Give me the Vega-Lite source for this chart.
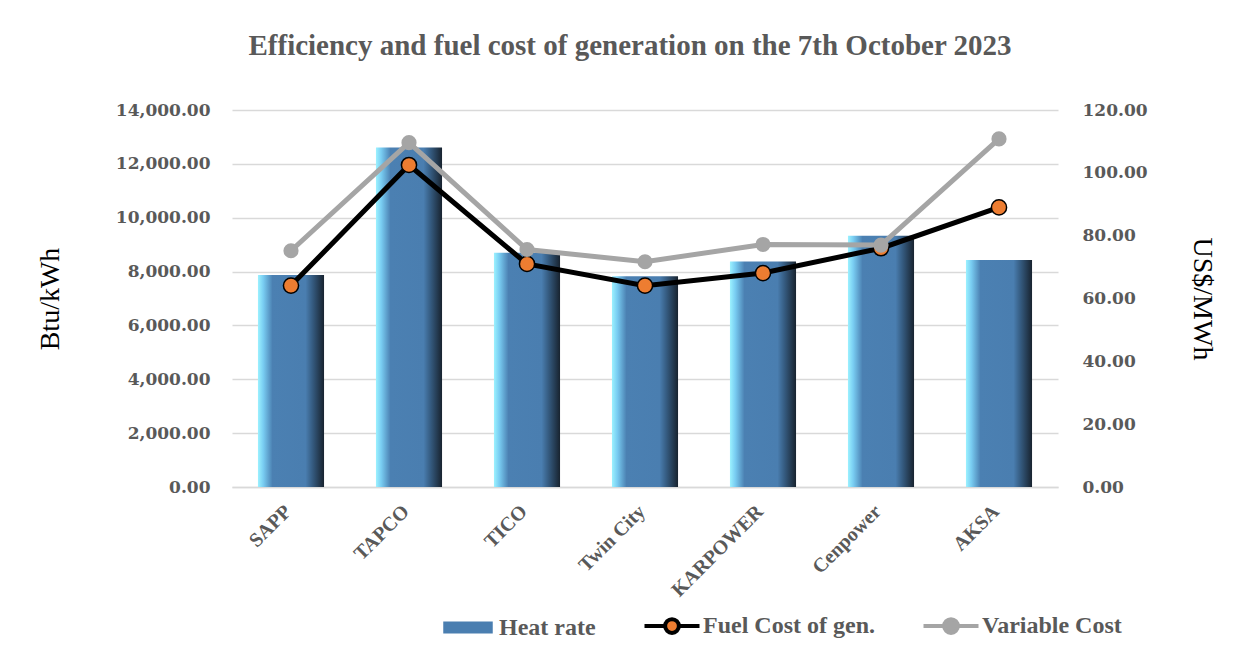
{
  "$schema": "https://vega.github.io/schema/vega-lite/v6.json",
  "width": 826,
  "height": 377,
  "autosize": {"type": "none"},
  "padding": {"left": 232, "top": 110, "right": 186, "bottom": 162},
  "background": "white",
  "title": {
    "text": "Efficiency and fuel cost of generation on the 7th October 2023",
    "font": "Liberation Serif",
    "fontSize": 29,
    "fontWeight": "bold",
    "color": "#595959",
    "anchor": "middle",
    "dx": -15,
    "offset": 40
  },
  "config": {
    "view": {"stroke": null}
  },
  "data": {
    "values": [
      {"plant": "SAPP", "heat": 7870, "fuel": 64.1, "variable": 75.2},
      {"plant": "TAPCO", "heat": 12610, "fuel": 102.5, "variable": 109.6},
      {"plant": "TICO", "heat": 8700, "fuel": 71.0, "variable": 75.6},
      {"plant": "Twin City", "heat": 7830, "fuel": 64.1, "variable": 71.7},
      {"plant": "KARPOWER", "heat": 8370, "fuel": 68.1, "variable": 77.2},
      {"plant": "Cenpower", "heat": 9330, "fuel": 76.0, "variable": 77.0},
      {"plant": "AKSA", "heat": 8430, "fuel": 89.0, "variable": 110.8}
    ]
  },
  "encoding": {
    "x": {
      "field": "plant",
      "type": "nominal",
      "sort": null,
      "scale": {"paddingInner": 0.44, "paddingOuter": 0.22},
      "axis": {
        "title": null,
        "labelAngle": -45,
        "labelFont": "Liberation Serif",
        "labelFontSize": 20,
        "labelFontWeight": "bold",
        "labelColor": "#595959",
        "labelPadding": 14,
        "labelOffset": -10,
        "ticks": false,
        "domainColor": "#d9d9d9",
        "domainWidth": 1.5
      }
    }
  },
  "layer": [
    {
      "mark": {
        "type": "bar",
        "color": {
          "gradient": "linear",
          "x1": 0, "x2": 1, "y1": 0, "y2": 0,
          "stops": [
            {"offset": 0, "color": "#9cf2ff"},
            {"offset": 0.08, "color": "#79cdf2"},
            {"offset": 0.22, "color": "#4b80b2"},
            {"offset": 0.72, "color": "#4a7eb0"},
            {"offset": 0.82, "color": "#365d83"},
            {"offset": 1, "color": "#18232f"}
          ]
        }
      },
      "encoding": {
        "y": {
          "field": "heat",
          "type": "quantitative",
          "scale": {"domain": [0, 14000]},
          "axis": {
            "values": [0, 2000, 4000, 6000, 8000, 10000, 12000, 14000],
            "format": ",.2f",
            "grid": true,
            "gridColor": "#d9d9d9",
            "gridWidth": 1.5,
            "domain": false,
            "ticks": false,
            "labelPadding": 22,
            "labelFont": "DejaVu Serif",
            "labelFontSize": 17,
            "labelFontWeight": "bold",
            "labelColor": "#595959",
            "title": "Btu/kWh",
            "titleFont": "Liberation Serif",
            "titleFontSize": 28,
            "titleFontWeight": "normal",
            "titleColor": "black",
            "titlePadding": 51
          }
        }
      }
    },
    {
      "layer": [
        {
          "mark": {"type": "line", "color": "black", "strokeWidth": 5},
          "encoding": {
            "y": {
              "field": "fuel",
              "type": "quantitative",
              "scale": {"domain": [0, 120]},
              "axis": {
                "values": [0, 20, 40, 60, 80, 100, 120],
                "format": ".2f",
                "grid": false,
                "domain": false,
                "ticks": false,
                "labelPadding": 24,
                "labelFont": "DejaVu Serif",
                "labelFontSize": 17,
                "labelFontWeight": "bold",
                "labelColor": "#595959",
                "title": "US$/MWh",
                "titleFont": "Liberation Serif",
                "titleFontSize": 28,
                "titleFontWeight": "normal",
                "titleColor": "black",
                "titlePadding": 40
              }
            },
            "color": {
              "datum": "Fuel Cost of gen.",
              "type": "nominal",
              "scale": {
                "domain": ["Heat rate", "Fuel Cost of gen.", "Variable Cost"],
                "range": ["#4a7eb0", "black", "#a5a5a5"]
              },
              "legend": {
                "title": null,
                "orient": "none",
                "direction": "horizontal",
                "columns": 3,
                "legendX": 208,
                "legendY": 504,
                "symbolSize": 3025,
                "symbolStrokeWidth": 4,
                "labelFont": "Liberation Serif",
                "labelFontSize": 24,
                "labelFontWeight": "bold",
                "labelColor": "#595959",
                "labelLimit": 400,
                "columnPadding": 40,
                "encode": {
                  "symbols": {
                    "update": {
                      "x": {"value": 28},
                      "shape": {"signal": "datum.value === 'Heat rate' ? 'M-0.9,-0.22H0.9V0.22H-0.9Z' : 'M-1,0H-0.25M0.25,0H1M-0.25,0A0.25,0.25 0 1 1 0.25,0A0.25,0.25 0 1 1 -0.25,0Z'"},
                      "fill": {"signal": "datum.value === 'Heat rate' ? '#4a7eb0' : (datum.value === 'Fuel Cost of gen.' ? '#ed7d31' : '#a5a5a5')"},
                      "stroke": {"signal": "datum.value === 'Heat rate' ? '#4a7eb0' : (datum.value === 'Fuel Cost of gen.' ? 'black' : '#a5a5a5')"},
                      "strokeWidth": {"signal": "datum.value === 'Heat rate' ? 0 : 4"},
                      "opacity": {"value": 1},
                      "fillOpacity": {"value": 1},
                      "size": {"value": 3025}
                    }
                  },
                  "labels": {
                    "update": {
                      "x": {"value": 59}
                    }
                  }
                }
              }
            }
          }
        },
        {
          "mark": {"type": "point", "filled": true, "fill": "#ed7d31", "stroke": "black", "strokeWidth": 1.5, "size": 230, "opacity": 1},
          "encoding": {"y": {"field": "fuel", "type": "quantitative"}}
        },
        {
          "mark": {"type": "line", "strokeWidth": 5},
          "encoding": {
            "y": {"field": "variable", "type": "quantitative"},
            "color": {"datum": "Variable Cost", "type": "nominal"}
          }
        },
        {
          "mark": {"type": "point", "filled": true, "fill": "#a5a5a5", "stroke": null, "size": 230, "opacity": 1},
          "encoding": {"y": {"field": "variable", "type": "quantitative"}}
        }
      ]
    }
  ],
  "resolve": {"scale": {"y": "independent"}}
}
